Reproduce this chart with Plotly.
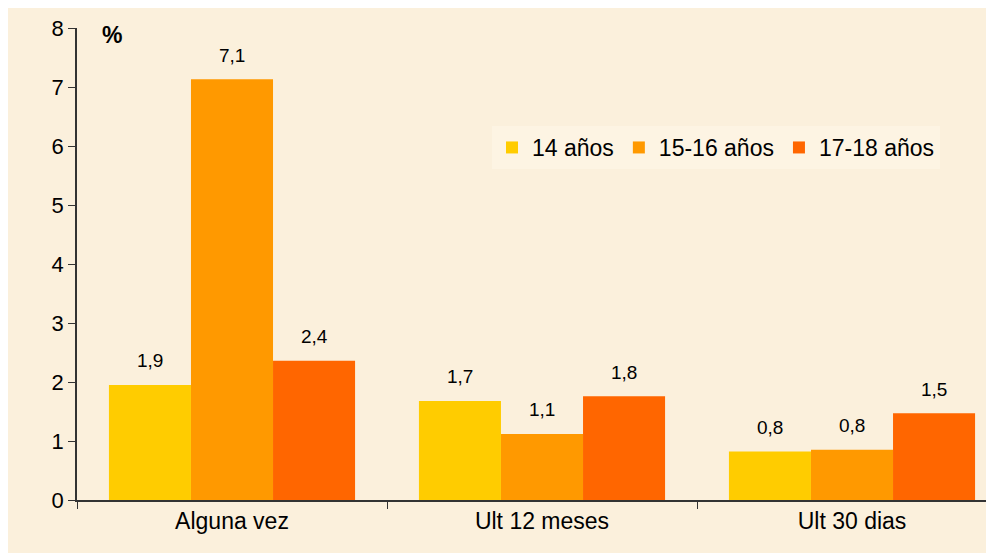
import plotly.graph_objects as go

categories = ["Alguna vez", "Ult 12 meses", "Ult 30 dias"]
series_names = ["14 años", "15-16 años", "17-18 años"]
values_14 = [1.95, 1.68, 0.82]
values_15_16 = [7.13, 1.12, 0.85]
values_17_18 = [2.36, 1.76, 1.47]
labels_14 = ["1,9", "1,7", "0,8"]
labels_15_16 = ["7,1", "1,1", "0,8"]
labels_17_18 = ["2,4", "1,8", "1,5"]
y_ticks = [0, 1, 2, 3, 4, 5, 6, 7, 8]

colors = ["#FFCC00", "#FF9900", "#FF6600"]
all_values = [values_14, values_15_16, values_17_18]
all_labels = [labels_14, labels_15_16, labels_17_18]

# page body has an 8px default margin; the figure is placed at (8, 8)
OFF = 8
W, H = 994 - OFF, 553 - OFF
ML, MR, MT, MB = 77 - OFF, 0, 28 - OFF, 53
plot_w = W - ML - MR
px_per_cat = 310.0
x_max = -0.5 + plot_w / px_per_cat
ph = H - MT - MB

fig = go.Figure()
for name, vals, col in zip(series_names, all_values, colors):
    fig.add_trace(go.Bar(x=categories, y=vals, name=name, marker=dict(color=col, line=dict(width=0))))

bargap = 0.206
bar_w = (1 - bargap) / 3
annotations = []
for si, labs in enumerate(all_labels):
    for ci, lab in enumerate(labs):
        annotations.append(dict(
            x=ci + (si - 1) * bar_w, y=all_values[si][ci], xref="x", yref="y",
            text=lab, showarrow=False, yanchor="middle", yshift=24,
            font=dict(family="Liberation Sans, Arial", size=19, color="#000000")))

annotations.append(dict(x=(112 - 77) / plot_w, y=1 - (35 - 28) / ph, xref="paper", yref="paper",
                        text="<b>%</b>", showarrow=False, xanchor="center", yanchor="middle",
                        font=dict(family="Liberation Sans, Arial", size=23, color="#000000")))

fig.update_layout(
    width=W, height=H,
    margin=dict(l=ML, r=MR, t=MT, b=MB, autoexpand=False),
    paper_bgcolor="#FBF0DC",
    plot_bgcolor="rgba(0,0,0,0)",
    barmode="group", bargap=bargap, bargroupgap=0,
    font=dict(family="Liberation Sans, Arial", size=22, color="#000000"),
    showlegend=True,
    legend=dict(orientation="h", x=(492 - 77) / plot_w, y=1 - (126 - 28) / ph, xanchor="left", yanchor="top",
                bgcolor="#FDF4E3", font=dict(size=23), traceorder="normal", tracegroupgap=0),
    xaxis=dict(type="category", range=[-0.5, x_max], tickson="boundaries", ticks="outside", ticklen=7,
               tickcolor="#333333", showline=True, linecolor="#333333", linewidth=1.5, automargin=False,
               showgrid=False, zeroline=False, tickfont=dict(size=23)),
    yaxis=dict(range=[0, 8], tickvals=y_ticks, ticks="outside", ticklen=7, tickcolor="#333333", automargin=False,
               showline=True, linecolor="#333333", linewidth=1.5, showgrid=False, zeroline=False,
               tickfont=dict(size=22)),
    annotations=annotations,
)

fig.write_html("out.html")
